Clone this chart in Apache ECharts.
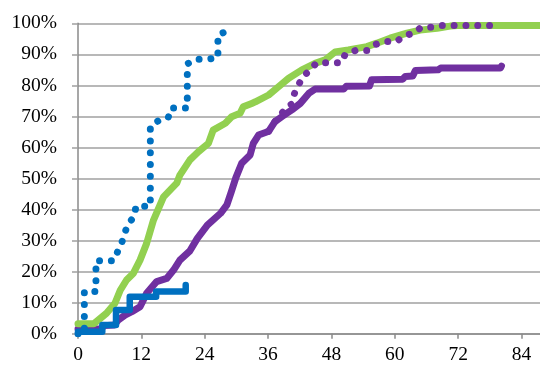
<!DOCTYPE html>
<html>
<head>
<meta charset="utf-8">
<script src="https://cdn.jsdelivr.net/npm/echarts@6/dist/echarts.min.js"></script>
<style>
html,body{margin:0;padding:0;background:#fff;}
#c{width:540px;height:366px;}
</style>
</head>
<body>
<div id="c"></div>
<script>
// X tick labels: 0, 12, 24, ... 84 (months)
var xTicks = [0, 12, 24, 36, 48, 60, 72, 84];
var yTicks = [0, 10, 20, 30, 40, 50, 60, 70, 80, 90, 100];

// Blue solid
var blueX = [0, 4.6, 4.6, 7.2, 7.2, 9.8, 9.8, 14.8, 14.8, 20.4, 20.4];
var blueY = [0.6, 0.6, 2.8, 2.8, 7.6, 7.6, 11.9, 11.9, 13.6, 13.6, 15.7];

// Green solid
var greenX = [0, 3.0, 5.4, 7.0, 8.0, 9.2, 10.5, 11.75, 13.0, 14.3, 16.2, 18.7, 19.3, 21.2, 22.8, 24.7, 25.6, 27.9, 29.1, 30.7, 31.3, 32.9, 33.6, 36.1, 38.0, 39.9, 42.4, 44.9, 46.8, 48.7, 51.2, 54.7, 56.6, 59.1, 62.3, 64.8, 68.0, 70.5, 71.8, 87.5];
var greenY = [3.2, 3.2, 6.6, 9.8, 14.0, 17.3, 19.5, 23.7, 29.1, 36.6, 44.1, 48.5, 51.1, 56.0, 58.6, 61.3, 65.6, 67.8, 69.9, 71.0, 73.1, 74.2, 74.7, 76.9, 79.6, 82.3, 85.0, 87.1, 88.2, 90.8, 91.4, 92.5, 93.6, 95.2, 96.8, 97.8, 98.4, 99.1, 99.3, 99.3];

// Purple solid
var purpleX = [0, 4.3, 5.0, 6.9, 7.6, 8.9, 10.2, 11.75, 13.0, 14.9, 16.8, 18.1, 19.3, 21.2, 22.6, 24.5, 27.0, 28.2, 29.0, 29.9, 31.0, 32.6, 33.2, 34.2, 35.5, 36.1, 37.3, 38.6, 40.5, 42.1, 43.7, 44.9, 50.3, 50.8, 55.2, 55.6, 61.5, 62.0, 63.4, 63.9, 68.2, 68.7, 80.0, 80.2];
var purpleY = [1.5, 1.5, 2.6, 2.8, 4.4, 6.0, 7.1, 8.7, 13.0, 16.8, 17.8, 20.5, 23.7, 26.7, 30.7, 35.0, 38.8, 41.5, 45.5, 50.3, 54.9, 57.6, 61.3, 64.0, 64.8, 65.2, 68.3, 69.9, 72.1, 74.2, 77.4, 78.8, 78.8, 79.7, 79.8, 81.8, 82.0, 82.9, 83.0, 84.8, 85.0, 85.6, 85.6, 86.2];

// Blue dotted
var blueDotX = [0, 1.2, 1.2, 3.4, 3.4, 6.8, 7.5, 8.3, 9.4, 10.6, 11.0, 13.7, 13.7, 15.4, 17.1, 17.6, 20.7, 20.7, 22.2, 24.5, 26.5, 26.5, 28.2];
var blueDotY = [0, 0, 13.6, 13.6, 23.5, 23.5, 26.4, 29.4, 35.2, 37.6, 41.1, 41.1, 66.8, 68.8, 69.7, 72.7, 72.7, 86.9, 88.4, 88.4, 88.9, 96.2, 97.5];

// Purple dotted
var purpleDotX = [36.1, 37.3, 38.6, 39.5, 40.5, 41.0, 41.8, 42.7, 44.0, 45.2, 49.9, 50.6, 52.5, 54.8, 56.2, 58.1, 60.3, 61.8, 63.6, 65.0, 67.0, 68.8, 80.0];
var purpleDotY = [65.2, 68.3, 71.0, 73.0, 74.0, 77.4, 80.3, 83.0, 85.0, 87.3, 87.3, 90.0, 91.2, 91.2, 93.1, 94.1, 94.1, 96.0, 96.8, 98.7, 98.7, 99.3, 99.3];

function zip(xs, ys) { return xs.map(function (x, i) { return [x, ys[i]]; }); }

var FONT = 'Liberation Serif';
var GRID = '#a0a0a0';
var AXIS = '#8a8a8a';

function solid(name, xs, ys, color, w, z) {
  return {
    name: name, type: 'line', data: zip(xs, ys), showSymbol: false, symbol: 'none',
    z: z, animation: false,
    lineStyle: { color: color, width: w, cap: 'round', join: 'round' }
  };
}
function dotted(name, xs, ys, color, w, z) {
  return {
    name: name, type: 'line', data: zip(xs, ys), showSymbol: false, symbol: 'none',
    z: z, animation: false,
    lineStyle: { color: color, width: w, cap: 'round', join: 'round', type: [0.01, 11.8] }
  };
}

var chart = echarts.init(document.getElementById('c'), null, { renderer: 'canvas' });
chart.setOption({
  backgroundColor: '#ffffff',
  animation: false,
  grid: { left: 78, right: 0, top: 23.3, bottom: 32.3, containLabel: false },
  xAxis: {
    type: 'value', min: 0, max: 87.5, interval: 12,
    axisLine: { show: true, onZero: false, lineStyle: { color: AXIS, width: 1.5 } },
    axisTick: { show: true, length: 5, inside: false, lineStyle: { color: AXIS, width: 1.5 } },
    splitLine: { show: false },
    axisLabel: {
      show: true, margin: 11, showMaxLabel: false,
      fontFamily: FONT, fontSize: 19.5, color: '#000',
      formatter: function (v) { return xTicks.indexOf(v) >= 0 ? String(v) : ''; }
    }
  },
  yAxis: {
    type: 'value', min: 0, max: 100, interval: 10,
    axisLine: { show: true, lineStyle: { color: AXIS, width: 1.5 } },
    axisTick: { show: true, length: 6, inside: false, lineStyle: { color: GRID, width: 1.5 } },
    splitLine: { show: true, lineStyle: { color: GRID, width: 1.5 } },
    axisLabel: {
      show: true, margin: 21,
      fontFamily: FONT, fontSize: 19.5, color: '#000',
      formatter: function (v) { return yTicks.indexOf(v) >= 0 ? v + '%' : ''; }
    }
  },
  series: [
    solid('purple', purpleX, purpleY, '#7030A0', 7, 2),
    solid('green', greenX, greenY, '#92D050', 7, 3),
    solid('blue', blueX, blueY, '#0070C0', 6.5, 4),
    dotted('purpleDot', purpleDotX, purpleDotY, '#7030A0', 7, 5),
    dotted('blueDot', blueDotX, blueDotY, '#0070C0', 7, 6)
  ]
});
</script>
</body>
</html>
